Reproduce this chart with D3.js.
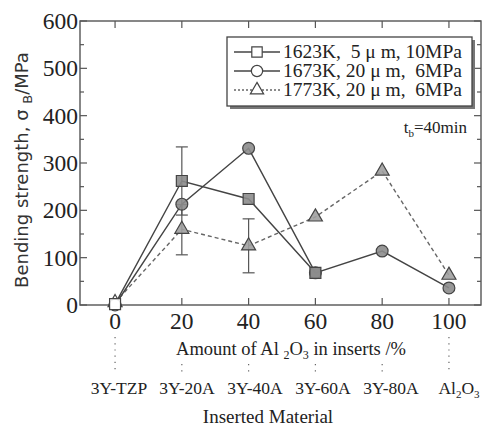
<!DOCTYPE html>
<html>
<head>
<meta charset="utf-8">
<script src="https://cdn.jsdelivr.net/npm/d3@7"></script>
<style>
  body { margin: 0; background: #fff; }
  svg { display: block; }
  .serif { font-family: "Liberation Serif", "Times New Roman", serif; fill: #222; }
</style>
</head>
<body>
<div id="chart"></div>
<script>
// data
const amounts = [0, 20, 40, 60, 80, 100];
const materials = ["3Y-TZP", "3Y-20A", "3Y-40A", "3Y-60A", "3Y-80A", "Al2O3"];
const yTicks = [0, 100, 200, 300, 400, 500, 600];
const s1623 = [2, 262, 224, 68, null, null];
const s1673 = [0, 213, 331, 68, 114, 36];
const s1773 = [5, 160, 125, 186, 283, 63];
const err1623 = [{x: 20, lo: 190, hi: 334}];
const err1773 = [{x: 20, lo: 106, hi: 212}, {x: 40, lo: 68, hi: 182}];
const seriesNames = ["1623K,  5 \u03bc m, 10MPa", "1673K, 20 \u03bc m,  6MPa", "1773K, 20 \u03bc m,  6MPa"];

const W = 482, H = 439;
const svg = d3.select("#chart").append("svg").attr("width", W).attr("height", H);

const x = d3.scaleLinear().domain([-10.5, 109.6]).range([80, 481]);
const y = d3.scaleLinear().domain([0, 600]).range([305, 21]);
const cat = d3.scalePoint().domain(materials).range([119, 459]);

const axisColor = "#555";

// frame
svg.append("rect")
    .attr("x", x.range()[0]).attr("y", y.range()[1])
    .attr("width", x.range()[1] - x.range()[0])
    .attr("height", y.range()[0] - y.range()[1])
    .attr("fill", "none").attr("stroke", axisColor).attr("stroke-width", 1.4);

// inward ticks
let minor = d3.range(50, 600, 100);
let g = svg.append("g").attr("stroke", axisColor).attr("stroke-width", 1.2);
yTicks.forEach(v => {
  g.append("line").attr("x1", 80).attr("x2", 87).attr("y1", y(v)).attr("y2", y(v));
  g.append("line").attr("x1", 481).attr("x2", 474).attr("y1", y(v)).attr("y2", y(v));
});
minor.forEach(v => {
  g.append("line").attr("x1", 80).attr("x2", 84).attr("y1", y(v)).attr("y2", y(v));
  g.append("line").attr("x1", 481).attr("x2", 477).attr("y1", y(v)).attr("y2", y(v));
});
amounts.forEach(v => {
  g.append("line").attr("x1", x(v)).attr("x2", x(v)).attr("y1", y(0)).attr("y2", y(0) - 7);
  g.append("line").attr("x1", x(v)).attr("x2", x(v)).attr("y1", y(600)).attr("y2", y(600) + 7);
});

// tick labels
svg.selectAll(".ytl").data(yTicks).enter().append("text")
    .attr("class", "serif ytl")
    .attr("x", 78).attr("y", d => y(d) + 8)
    .attr("text-anchor", "end")
    .style("font-size", "23.5px")
    .text(d => d);
svg.selectAll(".xtl").data(amounts).enter().append("text")
    .attr("class", "serif xtl")
    .attr("x", d => x(d)).attr("y", 329)
    .attr("text-anchor", "middle")
    .style("font-size", "23.5px")
    .text(d => d);

// y axis title
let yt = svg.append("text")
    .attr("transform", "translate(28,170) rotate(-90)")
    .attr("text-anchor", "middle")
    .style("font-family", "'DejaVu Sans', sans-serif")
    .style("font-size", "18px")
    .attr("fill", "#333");
yt.append("tspan").text("Bending strength, \u03c3 ");
yt.append("tspan").attr("dy", 4).style("font-size", "13px").text("B");
yt.append("tspan").attr("dy", -4).text("/MPa");

// x axis title
let xt = svg.append("text").attr("class", "serif")
    .attr("x", 291).attr("y", 355).attr("text-anchor", "middle")
    .style("font-size", "18.5px");
xt.append("tspan").text("Amount of Al ");
xt.append("tspan").attr("dy", 4).style("font-size", "12px").text("2");
xt.append("tspan").attr("dy", -4).text("O");
xt.append("tspan").attr("dy", 4).style("font-size", "12px").text("3");
xt.append("tspan").attr("dy", -4).text(" in inserts /%");

// dotted connectors
let dots = svg.append("g").attr("stroke", "#666").attr("stroke-width", 1.2).attr("stroke-dasharray", "1.2,5");
amounts.forEach((v, i) => {
  let top = (i === 0 || i === amounts.length - 1) ? 337 : 364;
  dots.append("line").attr("x1", x(v)).attr("x2", x(v)).attr("y1", top).attr("y2", 374);
});

// material labels
materials.forEach(m => {
  let t = svg.append("text").attr("class", "serif")
      .attr("x", cat(m)).attr("y", 394).attr("text-anchor", "middle")
      .style("font-size", "17.5px");
  if (m === "Al2O3") {
    t.append("tspan").text("Al");
    t.append("tspan").attr("dy", 4).style("font-size", "11px").text("2");
    t.append("tspan").attr("dy", -4).text("O");
    t.append("tspan").attr("dy", 4).style("font-size", "11px").text("3");
  } else {
    t.text(m);
  }
});
svg.append("text").attr("class", "serif")
    .attr("x", 268).attr("y", 423).attr("text-anchor", "middle")
    .style("font-size", "19px")
    .text("Inserted Material");

// error bars
function errBars(data) {
  let e = svg.append("g").attr("stroke", "#555").attr("stroke-width", 1.2);
  data.forEach(d => {
    e.append("line").attr("x1", x(d.x)).attr("x2", x(d.x)).attr("y1", y(d.lo)).attr("y2", y(d.hi));
    [d.lo, d.hi].forEach(v => {
      e.append("line").attr("x1", x(d.x) - 6).attr("x2", x(d.x) + 6).attr("y1", y(v)).attr("y2", y(v));
    });
  });
}
errBars(err1623);
errBars(err1773);

// series
const line = d3.line().defined(d => d[1] !== null).x(d => x(d[0])).y(d => y(d[1]));
const series = [
  {vals: s1623, sym: d3.symbolSquare, size: 120, color: "#444", dash: null, fill: "#8c8c8c"},
  {vals: s1673, sym: d3.symbolCircle, size: 110, color: "#444", dash: null, fill: "#8c8c8c"},
  {vals: s1773, sym: d3.symbolTriangle, size: 85, color: "#666", dash: "4,3", fill: "#a0a0a0"}
];
series.slice().reverse().forEach(s => {
  let pts = amounts.map((a, i) => [a, s.vals[i]]);
  svg.append("path").datum(pts)
      .attr("d", line)
      .attr("fill", "none")
      .attr("stroke", s.color)
      .attr("stroke-width", 1.4)
      .attr("stroke-dasharray", s.dash);
});
series.slice().reverse().forEach(s => {
  let pts = amounts.map((a, i) => [a, s.vals[i]]).filter(d => d[1] !== null);
  svg.append("g").selectAll("path").data(pts).enter().append("path")
      .attr("d", d3.symbol().type(s.sym).size(s.size))
      .attr("transform", d => `translate(${x(d[0])},${y(d[1])})`)
      .attr("fill", d => d[0] === 0 ? "#fff" : s.fill)
      .attr("fill-opacity", 0.9)
      .attr("stroke", "#444")
      .attr("stroke-width", 1.2);
});

// legend
const lg = svg.append("g");
lg.append("rect").attr("x", 230).attr("y", 40).attr("width", 245).attr("height", 69).attr("fill", "#777");
lg.append("rect").attr("x", 227).attr("y", 37).attr("width", 245).attr("height", 69)
    .attr("fill", "#fff").attr("stroke", "#444").attr("stroke-width", 1.3);
series.forEach((s, i) => {
  let cy = 52 + i * 19;
  lg.append("line").attr("x1", 234).attr("x2", 280).attr("y1", cy).attr("y2", cy)
      .attr("stroke", s.color).attr("stroke-width", 1.3).attr("stroke-dasharray", s.dash ? "2,2" : null);
  lg.append("path").attr("d", d3.symbol().type(s.sym).size(s.size * 0.9))
      .attr("transform", `translate(257,${cy})`)
      .attr("fill", "#fff").attr("stroke", "#444").attr("stroke-width", 1.2);
  lg.append("text").attr("class", "serif")
      .attr("x", 283).attr("y", cy + 6)
      .style("font-size", "19.5px")
      .style("white-space", "pre")
      .text(seriesNames[i]);
});

// annotation
let tb = svg.append("text").attr("class", "serif")
    .attr("x", 467).attr("y", 133).attr("text-anchor", "end")
    .style("font-size", "17px");
tb.append("tspan").text("t");
tb.append("tspan").attr("dy", 4).style("font-size", "11px").text("b");
tb.append("tspan").attr("dy", -4).text("=40min");
</script>
</body>
</html>
